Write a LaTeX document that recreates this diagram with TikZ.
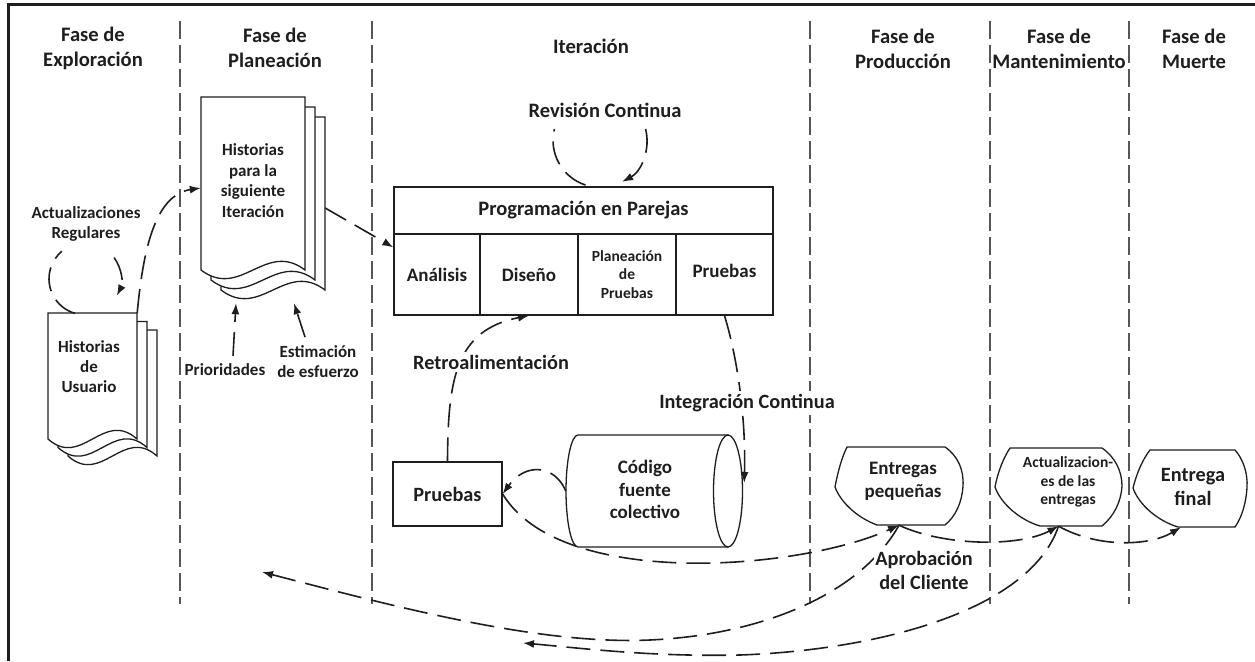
\documentclass[tikz,border=0pt]{standalone}
\usepackage{fontspec}
\setmainfont{Carlito}
\usetikzlibrary{arrows.meta,calc}
\definecolor{ink}{HTML}{1E1E1E}

% one page of a document stack: x, y, width, height (wavy bottom edge)
\newcommand\docsheet[4]{%
  \pgfmathsetmacro\dsR{#1+#3}\pgfmathsetmacro\dsB{#2+#4}%
  \pgfmathsetmacro\dsCa{#1+0.62*#3}\pgfmathsetmacro\dsCb{#1+0.38*#3}%
  \draw[shapeline] (#1,#2) -- (\dsR,#2) -- (\dsR,\dsB)
     .. controls (\dsCa,\dsB-30) and (\dsCb,\dsB+30) .. (#1,\dsB) -- cycle;}

\begin{document}
\begin{tikzpicture}[x=1pt,y=-1pt,
  every node/.style={font=\bfseries, text=ink, inner sep=0pt},
  ttl/.style={font=\fontsize{20.6}{25}\selectfont\bfseries, align=center},
  txtL/.style={font=\fontsize{20.3}{24}\selectfont\bfseries, align=center},
  txtM/.style={font=\fontsize{19}{22.5}\selectfont\bfseries, align=center},
  txtS/.style={font=\fontsize{17}{20.5}\selectfont\bfseries, align=center},
  txtXS/.style={font=\fontsize{15.5}{18.8}\selectfont\bfseries, align=center},
  shapeline/.style={draw=ink, line width=1.3pt, fill=white},
  cell/.style={shapeline, minimum height=81pt, inner sep=0pt},
  conn/.style={draw=ink, line width=1.6pt, dash pattern=on 24pt off 10pt},
  arr/.style={conn, -{Latex[length=11pt,width=8pt]}},
  divider/.style={draw=ink!75, line width=1.1pt, dash pattern=on 18pt off 6pt},
  mask/.style={fill=white, inner sep=3pt}
]
\useasboundingbox (0,0) rectangle (1255,661);

% frame
\draw[line width=3pt, draw=ink] (8,661) -- (8,5) -- (1255,5);

% phase dividers
\foreach \xd in {180,372,810,990,1129}
  \draw[divider] (\xd,21) -- (\xd,604);

% phase titles
\node[ttl] (t1) at (93,48) {Fase de\\Exploración};
\node[ttl] (t2) at (275,48) {Fase de\\Planeación};
\node[ttl] (t3) at (591,46) {Iteración};
\node[ttl] (t4) at (903,49) {Fase de\\Producción};
\node[ttl] (t5) at (1059,49) {Fase de\\Mantenimiento};
\node[ttl] (t6) at (1194,49) {Fase de\\Muerte};

% user stories stack
\docsheet{68}{330}{89}{126}
\docsheet{58}{321.5}{89}{126}
\docsheet{48}{313}{89}{126}
\node[minimum width=89pt, minimum height=127pt] (hu) at (92.5,376.5) {};
\node[txtS, align=center, font=\fontsize{17}{20}\selectfont\bfseries] (huT) at (89,367) {Historias\\de\\Usuario};

% stories for next iteration stack
\docsheet{221}{117}{104}{173}
\docsheet{211}{107}{104}{173}
\docsheet{201}{97}{104}{173}
\node[minimum width=104pt, minimum height=173pt] (hs) at (253,183.5) {};
\node[txtS] (hsT) at (253,180.5) {Historias\\para la\\siguiente\\Iteración};

% pair programming block
\node[shapeline, minimum width=379pt, minimum height=47pt, font=\fontsize{20.5}{24}\selectfont\bfseries] (pp) at (583.5,210.5) {Programación en Parejas};
\node[cell, minimum width=86pt, txtM] (ana) at (437,274.5) {Análisis};
\node[cell, minimum width=98pt, txtM] (dis) at (529,274.5) {Diseño};
\node[cell, minimum width=98pt, txtXS] (plp) at (627,274.5) {Planeación\\de\\Pruebas};
\node[cell, minimum width=97pt, txtM] (pru) at (724.5,274.5) {\raisebox{8pt}{Pruebas}};

% tests box
\node[shapeline, minimum width=109pt, minimum height=64pt, txtL] (prb) at (447.5,494) {Pruebas};

% collective code cylinder
\node[minimum width=176pt, minimum height=112pt] (cyl) at (654,491) {};
\draw[shapeline] (578,435) -- (728,435) -- (728,547) -- (578,547)
   arc[start angle=90, end angle=270, x radius=12, y radius=56] -- cycle;
\draw[shapeline] (728,491) ellipse[x radius=14.5, y radius=56];
\node[txtM] (cylT) at (645,489.5) {Código\\fuente\\colectivo};

% release shapes
\node[minimum width=128pt, minimum height=78pt] (ent) at (899,486) {};
\draw[shapeline] (847,447) -- (945,447) .. controls (958,456) and (964,470) .. (963,486)
   .. controls (962,502) and (956,516) .. (945,525) -- (877,525)
   .. controls (858,518) and (841,503) .. (835,487) .. controls (838,471) and (842,457) .. (847,447) -- cycle;
\node[txtM, font=\fontsize{19}{23}\selectfont\bfseries] (entT) at (903,481.5) {Entregas\\pequeñas};

\node[minimum width=127pt, minimum height=78pt] (act) at (1058.5,487) {};
\draw[shapeline] (1010,448) -- (1102,448) .. controls (1115,457) and (1122,471) .. (1122,486)
   .. controls (1121,502) and (1114,516) .. (1102,526) -- (1040,526)
   .. controls (1020,520) and (1001,504) .. (995,487) .. controls (998,471) and (1004,457) .. (1010,448) -- cycle;
\node[txtXS] (actT) at (1068,482) {Actualizacion-\\es de las\\entregas};

\node[minimum width=114pt, minimum height=77pt] (fin) at (1190,488.5) {};
\draw[shapeline] (1150,450) -- (1235,450) .. controls (1243,459) and (1248,473) .. (1247,488)
   .. controls (1246,503) and (1242,517) .. (1235,527) -- (1178,527)
   .. controls (1158,521) and (1139,505) .. (1133,488) .. controls (1137,472) and (1143,459) .. (1150,450) -- cycle;
\node[txtL] (finT) at (1193,487) {Entrega\\final};

% free ends of the return arrows
\coordinate (back1) at (262,572);
\coordinate (back2) at (523,643);

% regular updates loop
\draw[conn] ($(hu.north)+(-17.4,0.6)$) arc[start angle=106, end angle=230, radius=36];
\draw[arr] ($(hu.north)+(21.6,-55.2)$) arc[start angle=-36, end angle=28, radius=36];

% planning connectors
\draw[arr] (hu.north east) .. controls +(6,-63) and +(-46,7) .. ($(hs.west)+(0,4.5)$);
\draw[arr] ($(hs.east)+(20,24.5)$) -- ($(ana.north west)+(0,14)$);

\node[txtS] (prio) at (225,370) {Prioridades};
\node[txtS] (est) at (318,361.5) {Estimación\\de esfuerzo};
\draw[arr] ($(prio.north)+(8,-8)$) -- ($(hs.south)+(-17,33)$);
\draw[arr] ($(est.north)+(-13,-8)$) -- ($(hs.south)+(41,33)$);

% continuous review loop
\node[font=\fontsize{20.5}{24}\selectfont\bfseries] (rev) at (605,110) {Revisión Continua};
\draw[conn] ($(pp.north)+(2,-1.3)$) arc[start angle=108, end angle=194, radius=47];
\draw[arr] ($(pp.north)+(62.1,-57.4)$) arc[start angle=-14, end angle=62, radius=47];

% feedback, integration, tests
\draw[arr] (prb.north) .. controls (448,380) and (455,330) .. (dis.south);
\draw[arr] (pru.south) .. controls (738,360) and (746,420) .. ($(cyl.east)+(2,-8)$);
\draw[arr] (cyl.west) .. controls +(-11,-26) and +(23,-32) .. (prb.east);
\draw[arr] (prb.east) .. controls +(58,96) and +(-99,45) .. (ent.south);

% releases
\draw[arr] (ent.south) .. controls +(45,21) and +(-40,21) .. (act.south);
\draw[arr] (act.south) .. controls +(42,23) and +(-30,18) .. ($(fin.south)+(-9,0)$);
\draw[arr] (ent.south) .. controls (860,595) and (760,635) .. (650,640)
   .. controls (540,645) and (400,608) .. (back1);
\draw[arr] (act.south) .. controls (1030,610) and (880,650) .. (740,655)
   .. controls (650,657) and (580,648) .. (back2);

% labels laid over the connectors
\node[txtS, font=\fontsize{17}{20.5}\selectfont\bfseries, mask] (areg) at (86,224) {Actualizaciones\\Regulares};
\node[txtL, mask] (retro) at (491,362) {Retroalimentación};
\node[txtL, mask] (integ) at (747,403) {Integración Continua};
\node[txtL, inner sep=1pt, fill=white] (apro) at (924,570) {Aprobación\\del Cliente};
\end{tikzpicture}
\end{document}
